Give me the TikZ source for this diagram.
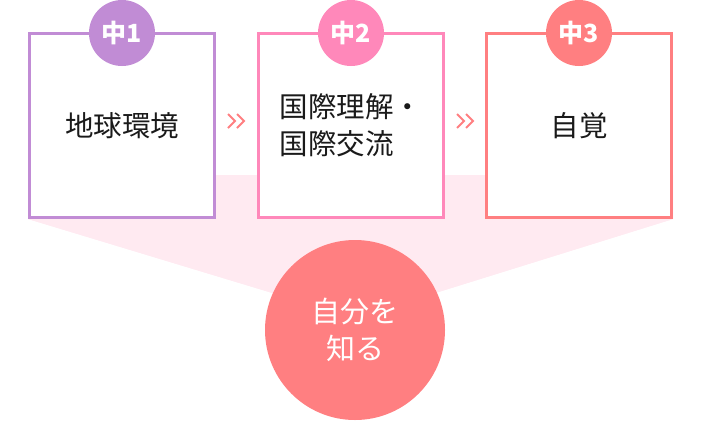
\documentclass[tikz,border=0pt]{standalone}
\usepackage{fontspec}
\setmainfont{Noto Sans CJK JP}
\usetikzlibrary{positioning}
\definecolor{grade-one}{HTML}{C18CD5}
\definecolor{grade-two}{HTML}{FF88BA}
\definecolor{grade-three}{HTML}{FF7F81}
\definecolor{band-pink}{HTML}{FFEAF1}
\definecolor{label-text}{HTML}{1A1A1A}
\begin{document}
\begin{tikzpicture}
    [ x=1pt, y=-1pt,
      stage-box/.style = {
        shape=rectangle, draw, line width=3pt, fill=white,
        minimum width=185pt, minimum height=184pt, inner sep=0pt,
        align=left, text=label-text,
        font=\fontsize{28.5}{37}\selectfont
      },
      grade-badge/.style = {
        shape=circle, minimum size=66pt, inner sep=0pt,
        text=white, font=\bfseries\fontsize{25}{25}\selectfont
      },
      self-node/.style = {
        shape=circle, minimum size=180pt, inner sep=0pt,
        fill=grade-three, text=white, align=center,
        font=\fontsize{29}{37}\selectfont
      },
      chevron/.style = {draw=grade-three, line width=1.8pt}]
      \useasboundingbox (0,0) rectangle (711,421);
      \coordinate (apex) at (355,318);
      % pale band behind the stages
      \fill [band-pink] (28,219) -- (28,175) -- (673,175) -- (673,219)
        -- (apex) -- cycle;
      \node [stage-box, draw=grade-one] (earth) at (122,125.5) {地球環境};
      \node [stage-box, draw=grade-two] (global) at (351,125.5)
        {国際理解・\\国際交流};
      \node [stage-box, draw=grade-three] (aware) at (579,125.5) {自覚};
      \fill [band-pink] (earth.south west) -- (aware.south east) -- (apex) -- cycle;
      \node [grade-badge, fill=grade-one] (g1) at (earth.center |- 0,33) {中1};
      \node [grade-badge, fill=grade-two] (g2) at (global.center |- 0,33) {中2};
      \node [grade-badge, fill=grade-three] (g3) at (aware.center |- 0,33) {中3};
      \coordinate (step1) at (236,121);
      \coordinate (step2) at (465,121);
      \foreach \s in {step1, step2} {
        \draw [chevron] ([xshift=-8pt,yshift=7pt]\s) -- ++(7,7) -- ++(-7,7);
        \draw [chevron] ([xshift=1pt,yshift=7pt]\s) -- ++(7,7) -- ++(-7,7);
      }
      \node [self-node] (self) at (355,330) {自分を\\知る};
  \end{tikzpicture}
\end{document}
